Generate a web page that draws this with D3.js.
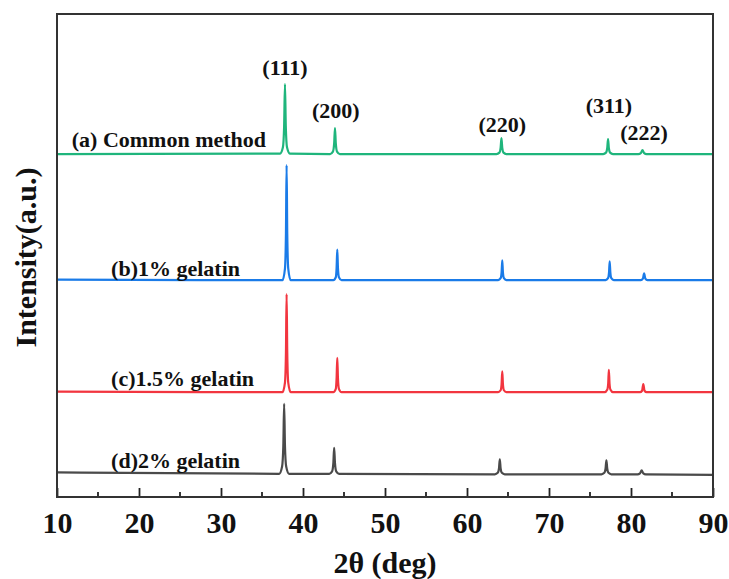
<!DOCTYPE html>
<html>
<head>
<meta charset="utf-8">
<script src="https://cdn.jsdelivr.net/npm/d3@7"></script>
<style>
  body { margin: 0; background: #fff; }
  svg text { font-family: "Liberation Serif", "Times New Roman", serif; font-weight: bold; fill: #111; }
</style>
</head>
<body>
<svg id="chart"></svg>
<script>
const width = 729;
const height = 579;

// 2θ (deg), intensity (a.u., stacked)
const seriesA = [[10,710],[37.2,711],[37.55,724],[37.7,768],[37.8,855],[37.9,768],[38.05,724],[38.4,711],
  [43.3,710],[43.65,715],[43.8,732],[43.9,764],[44.0,732],[44.15,715],[44.5,710],
  [63.6,710],[63.95,713],[64.1,723],[64.2,743],[64.3,723],[64.45,713],[64.8,710],
  [76.6,710],[76.95,713],[77.1,722],[77.2,741],[77.3,722],[77.45,713],[77.8,710],
  [80.9,710],[81.2,712],[81.4,718],[81.6,712],[81.9,710],[90,710]];

const seriesB = [[10,450],[37.5,449],[37.8,473],[37.92,545],[38.0,687],[38.08,545],[38.2,473],[38.5,449],
  [43.7,449],[44.0,455],[44.1,475],[44.18,512],[44.26,475],[44.38,455],[44.7,449],
  [63.8,449],[64.1,453],[64.22,465],[64.3,490],[64.38,465],[64.5,453],[64.8,449],
  [76.9,449],[77.2,453],[77.32,465],[77.4,488],[77.48,465],[77.6,453],[77.9,449],
  [81.2,449],[81.45,452],[81.6,463],[81.75,452],[82.0,449],[90,449]];

const seriesC = [[10,218],[37.5,217],[37.8,237],[37.92,299],[38.0,420],[38.08,299],[38.2,237],[38.5,217],
  [43.7,217],[44.0,224],[44.1,247],[44.18,288],[44.26,247],[44.38,224],[44.7,217],
  [63.8,217],[64.1,221],[64.22,234],[64.3,260],[64.38,234],[64.5,221],[64.8,217],
  [76.8,217],[77.1,222],[77.22,235],[77.3,263],[77.38,235],[77.5,222],[77.8,217],
  [81.1,217],[81.35,220],[81.5,234],[81.65,220],[81.9,217],[90,217]];

const seriesD = [[10,51],[37.1,48],[37.45,63],[37.6,106],[37.7,193],[37.8,106],[37.95,63],[38.3,48],
  [43.2,48],[43.55,53],[43.7,70],[43.8,102],[43.9,70],[44.05,53],[44.4,48],
  [63.4,47],[63.75,50],[63.9,59],[64.0,78],[64.1,59],[64.25,50],[64.6,47],
  [76.4,47],[76.75,50],[76.9,59],[77.0,76],[77.1,59],[77.25,50],[77.6,47],
  [80.8,47],[81.1,49],[81.3,55],[81.5,49],[81.8,47],[90,46]];

const seriesNames = ["(a) Common method", "(b)1% gelatin", "(c)1.5% gelatin", "(d)2% gelatin"];
const seriesColors = ["#1fb57c", "#1a7be8", "#f2353f", "#4a4a4a"];
// label anchor: 2θ, intensity
const seriesLabelPos = [[11.8, 724], [16.6, 457], [16.6, 230], [16.6, 60]];

const peakLabels = ["(111)", "(200)", "(220)", "(311)", "(222)"];
const peakLabelPos = [[37.8, 874], [44.0, 785], [64.3, 756], [77.3, 795], [81.6, 739]];

const xTicks = [10, 20, 30, 40, 50, 60, 70, 80, 90];
const xMinorTicks = [15, 25, 35, 45, 55, 65, 75, 85];

const margin = { top: 14, right: 16, bottom: 82, left: 57 };

const svg = d3.select("#chart")
  .attr("width", width)
  .attr("height", height);

const x = d3.scaleLinear().domain([10, 90]).range([margin.left, width - margin.right]);
const y = d3.scaleLinear().domain([0, 1000]).range([height - margin.bottom, margin.top]);

const line = d3.line()
  .x(d => x(d[0]))
  .y(d => y(d[1]))
  .curve(d3.curveMonotoneX);

const allSeries = [seriesA, seriesB, seriesC, seriesD];

svg.append("g")
  .selectAll("path")
  .data(allSeries)
  .enter()
  .append("path")
  .attr("d", line)
  .attr("fill", "none")
  .attr("stroke", (d, i) => seriesColors[i])
  .attr("stroke-width", 2.2)
  .attr("stroke-linejoin", "round");

// series names
svg.append("g")
  .selectAll("text")
  .data(seriesNames)
  .enter()
  .append("text")
  .attr("x", (d, i) => x(seriesLabelPos[i][0]))
  .attr("y", (d, i) => y(seriesLabelPos[i][1]))
  .attr("font-size", "22px")
  .text(d => d);

// peak indices
svg.append("g")
  .selectAll("text")
  .data(peakLabels)
  .enter()
  .append("text")
  .attr("x", (d, i) => x(peakLabelPos[i][0]))
  .attr("y", (d, i) => y(peakLabelPos[i][1]))
  .attr("text-anchor", "middle")
  .attr("font-size", "22px")
  .text(d => d);

// bottom axis with inward ticks
const xAxis = svg.append("g")
  .attr("transform", `translate(0,${height - margin.bottom})`)
  .call(d3.axisBottom(x).tickValues(xTicks).tickSize(-9).tickPadding(15).tickFormat(d3.format("d")));
xAxis.select(".domain").remove();
xAxis.selectAll(".tick line").attr("stroke", "#222").attr("stroke-width", 1.8);
xAxis.selectAll(".tick text")
  .attr("font-size", "30px")
  .attr("font-family", "Liberation Serif, Times New Roman, serif")
  .attr("font-weight", "bold")
  .attr("fill", "#111");

svg.append("g")
  .selectAll("line")
  .data(xMinorTicks)
  .enter()
  .append("line")
  .attr("x1", d => x(d))
  .attr("x2", d => x(d))
  .attr("y1", height - margin.bottom)
  .attr("y2", height - margin.bottom - 5)
  .attr("stroke", "#222")
  .attr("stroke-width", 1.8);

// frame
svg.append("rect")
  .attr("x", margin.left)
  .attr("y", margin.top)
  .attr("width", width - margin.left - margin.right)
  .attr("height", height - margin.top - margin.bottom)
  .attr("fill", "none")
  .attr("stroke", "#333")
  .attr("stroke-width", 2);

// axis titles
svg.append("text")
  .attr("x", (margin.left + width - margin.right) / 2)
  .attr("y", 573)
  .attr("text-anchor", "middle")
  .attr("font-size", "30px")
  .text("2θ (deg)");

svg.append("text")
  .attr("transform", `translate(36,${(margin.top + height - margin.bottom) / 2 + 2}) rotate(-90)`)
  .attr("text-anchor", "middle")
  .attr("font-size", "30px")
  .text("Intensity(a.u.)");
</script>
</body>
</html>
